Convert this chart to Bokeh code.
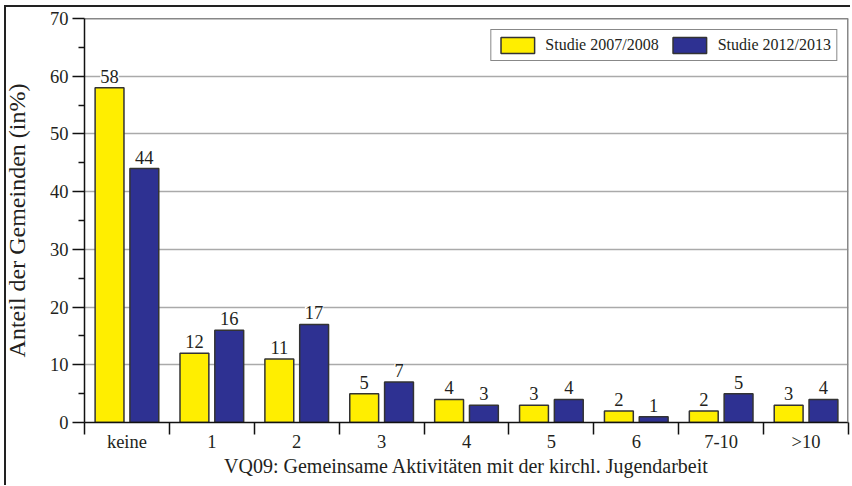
from bokeh.plotting import figure
from bokeh.models import (ColumnDataSource, FixedTicker, LabelSet, Span, Range1d,
                          Legend, LegendItem)
from bokeh.embed import file_html
from bokeh.resources import INLINE

categories = ["keine", "1", "2", "3", "4", "5", "6", "7-10", ">10"]
s2007 = [58, 12, 11, 5, 4, 3, 2, 2, 3]
s2012 = [44, 16, 17, 7, 3, 4, 1, 5, 4]
series_names = ["Studie 2007/2008", "Studie 2012/2013"]
colors = ["#FFEE00", "#2E3192"]

FONT = "Liberation Serif"
TXT = "#231f20"

n = len(categories)
centers = [i + 0.5 for i in range(n)]
src = ColumnDataSource(dict(
    xa=[c - 0.205 for c in centers],
    xb=[c + 0.205 for c in centers],
    va=s2007, vb=s2012,
    ta=[str(v) for v in s2007], tb=[str(v) for v in s2012],
))

p = figure(width=850, height=485, output_backend="svg", toolbar_location=None,
           x_range=Range1d(0, n), y_range=Range1d(0, 70),
           min_border_left=83, min_border_top=18, min_border_right=2,
           min_border_bottom=63)
p.styles = {
    "background": "linear-gradient(#222,#222) 4px 5px / 2px 100% no-repeat, "
                  "linear-gradient(#222,#222) 4px 5px / 100% 2px no-repeat, white",
}
p.outline_line_color = None
p.background_fill_color = "white"
p.border_fill_alpha = 0.0

r1 = p.vbar(x="xa", top="va", width=0.34, source=src, fill_color=colors[0],
            line_color="#333333", line_width=1.5)
r2 = p.vbar(x="xb", top="vb", width=0.34, source=src, fill_color=colors[1],
            line_color="#333333", line_width=1.5)

for xcol, ycol, tcol in (("xa", "va", "ta"), ("xb", "vb", "tb")):
    lab = LabelSet(x=xcol, y=ycol, text=tcol, source=src, y_offset=5,
                   text_align="center", text_baseline="bottom",
                   text_font=FONT, text_font_size="18.5px", text_color=TXT,
                   background_fill_color="white")
    p.add_layout(lab)

# frame top and right
p.add_layout(Span(location=70, dimension="width", line_color="#111111", line_width=1.5))
p.add_layout(Span(location=n, dimension="height", line_color="#888888", line_width=3))

# y axis
p.yaxis.ticker = FixedTicker(ticks=list(range(0, 71, 10)), minor_ticks=list(range(5, 70, 10)))
p.yaxis.major_tick_out = 12
p.yaxis.major_tick_in = 0
p.yaxis.minor_tick_out = 6
p.yaxis.minor_tick_in = 0
p.yaxis.axis_line_color = "#111111"
p.yaxis.axis_line_width = 1.5
p.yaxis.major_tick_line_color = "#111111"
p.yaxis.minor_tick_line_color = "#111111"
p.yaxis.major_tick_line_width = 1.5
p.yaxis.minor_tick_line_width = 1.5
p.yaxis.major_label_standoff = 4
p.yaxis.major_label_text_font = FONT
p.yaxis.major_label_text_font_size = "18.5px"
p.yaxis.major_label_text_color = TXT
p.yaxis.axis_label = "Anteil der Gemeinden (in%)"
p.yaxis.axis_label_text_font = FONT
p.yaxis.axis_label_text_font_size = "24px"
p.yaxis.axis_label_text_font_style = "normal"
p.yaxis.axis_label_text_color = TXT
p.yaxis.axis_label_standoff = 17

# x axis
p.xaxis.ticker = FixedTicker(ticks=centers, minor_ticks=list(range(0, n + 1)))
p.xaxis.major_label_overrides = {c: lab for c, lab in zip(centers, categories)}
p.xaxis.major_tick_out = 0
p.xaxis.major_tick_in = 0
p.xaxis.minor_tick_out = 12
p.xaxis.minor_tick_in = 0
p.xaxis.axis_line_color = "#111111"
p.xaxis.axis_line_width = 1.5
p.xaxis.minor_tick_line_color = "#111111"
p.xaxis.minor_tick_line_width = 1.5
p.xaxis.major_label_standoff = -3
p.xaxis.major_label_text_font = FONT
p.xaxis.major_label_text_font_size = "18.5px"
p.xaxis.major_label_text_color = TXT
p.xaxis.axis_label = "VQ09: Gemeinsame Aktivitäten mit der kirchl. Jugendarbeit"
p.xaxis.axis_label_text_font = FONT
p.xaxis.axis_label_text_font_size = "20px"
p.xaxis.axis_label_text_font_style = "normal"
p.xaxis.axis_label_text_color = TXT
p.xaxis.axis_label_standoff = 0

p.xgrid.grid_line_color = None
p.ygrid.grid_line_color = "#aaaaaa"
p.ygrid.grid_line_width = 1.5

legend = Legend(items=[LegendItem(label=series_names[0], renderers=[r1]),
                       LegendItem(label=series_names[1], renderers=[r2])],
                location="top_right", orientation="horizontal", margin=11,
                padding=5, spacing=10, label_standoff=7, glyph_width=42,
                glyph_height=20, label_height=20,
                border_line_color="#111111", border_line_width=1.2,
                label_text_font=FONT, label_text_font_size="16px",
                label_text_color=TXT, background_fill_alpha=1.0)
p.add_layout(legend, "center")

open("out.html", "w").write(file_html(p, INLINE))
